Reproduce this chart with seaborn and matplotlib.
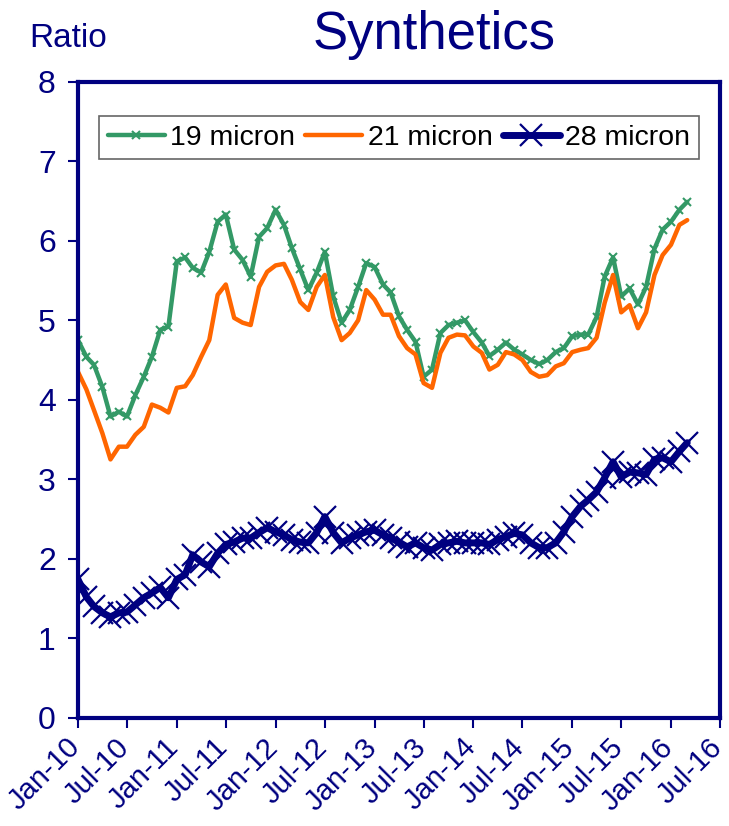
import pandas as pd
import numpy as np
import matplotlib
matplotlib.use('Agg')
import matplotlib.pyplot as plt
import matplotlib.dates as mdates
import matplotlib.transforms as mtransforms
import seaborn as sns

# ------------------------------------------------------------
# data (monthly, Jan-10 .. Mar-16)
# ------------------------------------------------------------
dates = pd.date_range("2010-01-01", periods=75, freq="MS")

micron_19 = [4.75, 4.54, 4.44, 4.16, 3.79, 3.85, 3.79, 4.06, 4.29, 4.54, 4.88, 4.92,
             5.74, 5.79, 5.66, 5.60, 5.86, 6.24, 6.33, 5.89, 5.76, 5.55, 6.05, 6.16,
             6.39, 6.20, 5.91, 5.64, 5.38, 5.60, 5.86, 5.30, 4.97, 5.13, 5.42, 5.72,
             5.67, 5.45, 5.35, 5.05, 4.88, 4.73, 4.29, 4.38, 4.84, 4.94, 4.97, 5.00,
             4.85, 4.72, 4.55, 4.63, 4.72, 4.63, 4.57, 4.50, 4.45, 4.50, 4.60, 4.65,
             4.80, 4.82, 4.82, 5.04, 5.55, 5.79, 5.30, 5.40, 5.20, 5.42, 5.90, 6.14,
             6.24, 6.39, 6.49]

micron_21 = [4.35, 4.13, 3.87, 3.58, 3.25, 3.41, 3.41, 3.56, 3.66, 3.94, 3.90, 3.84,
             4.15, 4.17, 4.31, 4.54, 4.75, 5.32, 5.45, 5.03, 4.97, 4.94, 5.42, 5.61,
             5.69, 5.71, 5.51, 5.23, 5.13, 5.42, 5.57, 5.04, 4.75, 4.84, 5.00, 5.38,
             5.26, 5.07, 5.07, 4.80, 4.65, 4.57, 4.21, 4.15, 4.59, 4.78, 4.82, 4.81,
             4.67, 4.59, 4.38, 4.44, 4.60, 4.57, 4.50, 4.35, 4.29, 4.31, 4.42, 4.46,
             4.60, 4.63, 4.65, 4.78, 5.22, 5.57, 5.10, 5.19, 4.90, 5.10, 5.57, 5.82,
             5.95, 6.20, 6.26]

micron_28 = [1.74, 1.52, 1.40, 1.32, 1.27, 1.32, 1.33, 1.42, 1.51, 1.57, 1.64, 1.51,
             1.74, 1.80, 2.05, 1.96, 1.90, 2.07, 2.18, 2.21, 2.26, 2.26, 2.33, 2.39,
             2.34, 2.30, 2.24, 2.21, 2.20, 2.33, 2.53, 2.33, 2.20, 2.26, 2.30, 2.34,
             2.36, 2.30, 2.26, 2.21, 2.15, 2.20, 2.14, 2.11, 2.18, 2.20, 2.22, 2.20,
             2.20, 2.20, 2.18, 2.24, 2.28, 2.32, 2.30, 2.20, 2.14, 2.14, 2.20, 2.34,
             2.53, 2.66, 2.74, 2.84, 3.02, 3.22, 3.03, 3.09, 3.08, 3.06, 3.25, 3.27,
             3.22, 3.35, 3.46]

y_ticks = [0, 1, 2, 3, 4, 5, 6, 7, 8]
x_ticks = pd.date_range("2010-01-01", "2016-07-01", freq="6MS")

NAVY   = "#000080"
GREEN  = "#339966"
ORANGE = "#FF6600"

# ------------------------------------------------------------
# plot
# ------------------------------------------------------------
sns.set_theme(style="white")
plt.rcParams['font.family'] = ['Liberation Sans', 'DejaVu Sans']

fig = plt.figure(figsize=(7.29, 8.26), dpi=100)
ax = fig.add_axes([0.107, 0.131, 0.881, 0.770])

sns.lineplot(x=dates, y=micron_19, ax=ax, color=GREEN, linewidth=3.2,
             marker='x', markersize=6, markeredgewidth=1.5, markeredgecolor=GREEN,
             label='19 micron')
sns.lineplot(x=dates, y=micron_21, ax=ax, color=ORANGE, linewidth=3.2,
             label='21 micron')
sns.lineplot(x=dates, y=micron_28, ax=ax, color=NAVY, linewidth=5,
             marker='x', markersize=16, markeredgewidth=1.6, markeredgecolor=NAVY,
             label='28 micron')

ax.set_ylim(0, 8)
ax.set_yticks(y_ticks)
ax.set_xlim(x_ticks[0], x_ticks[-1])
ax.set_xticks(x_ticks)
ax.xaxis.set_major_formatter(mdates.DateFormatter('%b-%y'))
ax.set_xlabel('')
ax.set_ylabel('')

for s in ax.spines.values():
    s.set_color(NAVY)
    s.set_linewidth(3)

ax.tick_params(axis='y', colors=NAVY, labelsize=23, length=7, width=1.5,
               direction='out', left=True, pad=9)
ax.tick_params(axis='x', colors=NAVY, labelsize=21, length=7, width=1.5,
               direction='out', bottom=True, pad=4)
# shift rotated date labels left so the last one stays inside the figure
shift = mtransforms.ScaledTranslation(-0.12, 0, fig.dpi_scale_trans)
for lbl in ax.get_xticklabels():
    lbl.set_rotation(45)
    lbl.set_ha('right')
    lbl.set_rotation_mode('anchor')
    lbl.set_transform(lbl.get_transform() + shift)

leg = ax.legend(loc='upper center', bbox_to_anchor=(0.5, 0.968), ncol=3,
                fontsize=20.5, frameon=True, fancybox=False, handlelength=2.0,
                handletextpad=0.2, columnspacing=0.35, borderpad=0.3,
                labelcolor='black')
leg.get_frame().set_edgecolor('#404040')
leg.get_frame().set_linewidth(1.2)

fig.text(0.595, 0.958, 'Synthetics', color=NAVY, fontsize=38, ha='center', va='center')
fig.text(0.04, 0.953, 'Ratio', color=NAVY, fontsize=24, ha='left', va='center')

plt.savefig('out.png', dpi=100)
plt.close()
